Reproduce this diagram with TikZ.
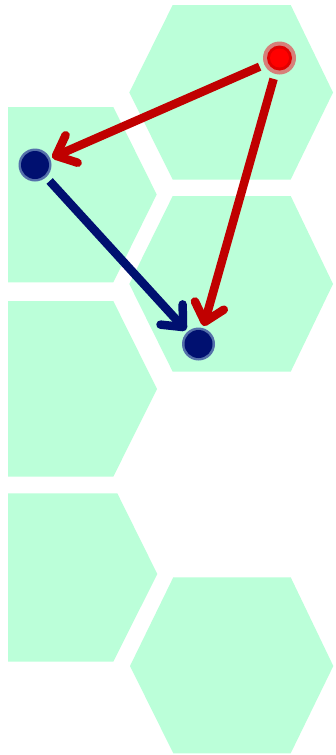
\documentclass[tikz,border=0pt]{standalone}
\usetikzlibrary{arrows.meta}
\definecolor{hexfill}{RGB}{187,255,217}
\definecolor{arrred}{RGB}{192,0,0}
\definecolor{navyc}{RGB}{0,16,112}
\definecolor{redring}{RGB}{214,128,122}
\definecolor{bluering}{RGB}{84,112,170}
\tikzset{
  hex/.style={fill=hexfill,draw=none},
  dotnode/.style={circle,inner sep=0pt,minimum size=33pt,draw=none},
  conn/.style={line width=8.5pt,-{Straight Barb[length=17pt,width=30pt,round]},shorten <=5pt,shorten >=2pt},
}
\begin{document}
\begin{tikzpicture}[x=1pt,y=-1pt]
\useasboundingbox (0,0) rectangle (336,755);
\fill[white] (0,0) rectangle (336,755);
% right column
\fill[hex] (172.7,5) -- (290.7,5) -- (333,92.5) -- (290.7,179.5) -- (172.7,179.5) -- (129.3,92.5) -- cycle;
\fill[hex] (172.7,196) -- (290.7,196) -- (333,284) -- (290.7,371.7) -- (172.7,371.7) -- (129.3,284) -- cycle;
\fill[hex] (173.3,577.3) -- (290.7,577.3) -- (333.3,666) -- (290.7,753.3) -- (173.3,753.3) -- (130,666) -- cycle;
% left column
\fill[hex] (8,107) -- (113.3,107) -- (156.7,194.5) -- (113.3,282.3) -- (8,282.3) -- cycle;
\fill[hex] (8,301) -- (113.3,301) -- (157,389) -- (113.3,476.7) -- (8,476.7) -- cycle;
\fill[hex] (8,493.3) -- (117.3,493.3) -- (157.3,574) -- (113.3,661.7) -- (8,661.7) -- cycle;
% dots
\node[dotnode,fill=redring] (r) at (279.5,58) {};
\fill[red!88!black] (r.center) circle (12.5);
\fill[red] (r.center) circle (9.5);
\node[dotnode,fill=bluering] (b1) at (35,165) {};
\fill[navyc] (b1.center) circle (14);
\node[dotnode,fill=bluering] (b2) at (198.5,344) {};
\fill[navyc] (b2.center) circle (14);
% connectors
\draw[conn,arrred] (r) -- (b1);
\draw[conn,arrred] (r) -- (b2);
\draw[conn,navyc] (b1) -- (b2);
\end{tikzpicture}
\end{document}
